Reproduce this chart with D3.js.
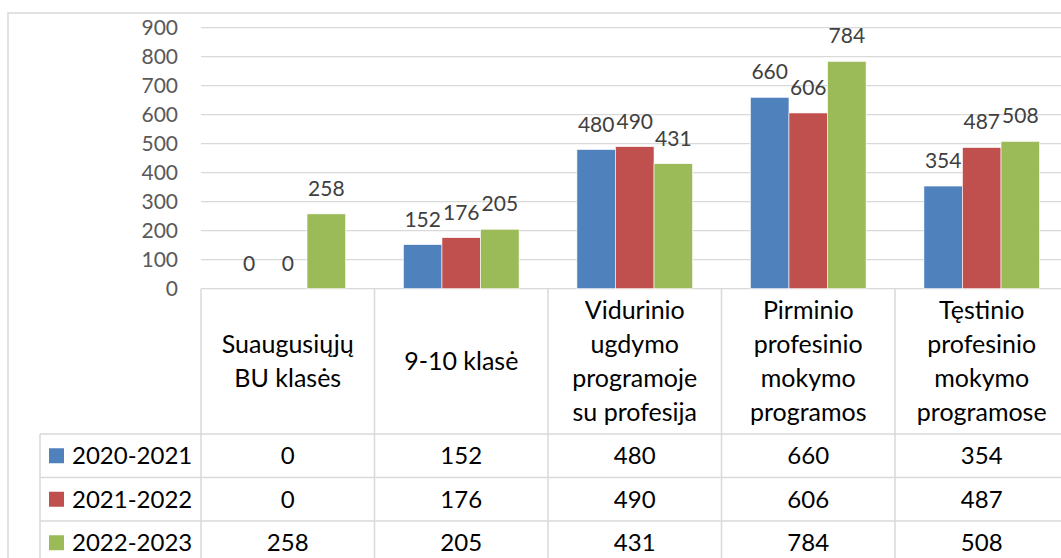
<!DOCTYPE html>
<html>
<head>
<meta charset="utf-8">
<script src="https://cdn.jsdelivr.net/npm/d3@7"></script>
<style>
  body { margin: 0; background: #fff; }
  svg { display: block; font-family: Lato, "Open Sans", sans-serif; }
</style>
</head>
<body>
<svg id="chart" width="1061" height="558"></svg>
<script>
// categories, each split into the lines shown in the table header
const categories = [
  ["Suaugusiųjų", "BU klasės"],
  ["9-10 klasė"],
  ["Vidurinio", "ugdymo", "programoje", "su profesija"],
  ["Pirminio", "profesinio", "mokymo", "programos"],
  ["Tęstinio", "profesinio", "mokymo", "programose"]
];
const series = ["2020-2021", "2021-2022", "2022-2023"];
const colors = ["#4F81BD", "#C0504D", "#9BBB59"];
const values2020 = [0, 152, 480, 660, 354];
const values2021 = [0, 176, 490, 606, 487];
const values2022 = [258, 205, 431, 784, 508];
const yTicks = [0, 100, 200, 300, 400, 500, 600, 700, 800, 900];

const allValues = [values2020, values2021, values2022];
const catKeys = categories.map((c, i) => i);

const svg = d3.select("#chart");
const grid = "#D9D9D9";

// layout
const plotLeft = 201, plotRight = 1068.5;
const plotTop = 27.7, plotBottom = 288.7;
const headerBottom = 434, rowH = 43.5;
const legendLeft = 40;

// outer chart border
svg.append("rect")
  .attr("x", 8).attr("y", 13)
  .attr("width", 1100).attr("height", 600)
  .attr("fill", "none").attr("stroke", grid).attr("stroke-width", 1.5);

const x0 = d3.scaleBand().domain(catKeys).range([plotLeft, plotRight]).paddingInner(0);
const x1 = d3.scaleBand().domain(series).range([0, x0.bandwidth()]).paddingInner(0).paddingOuter(0.75);
const y = d3.scaleLinear().domain([0, 900]).range([plotBottom, plotTop]);

// gridlines
svg.append("g").selectAll("line")
  .data(yTicks)
  .enter().append("line")
  .attr("x1", plotLeft).attr("x2", plotRight)
  .attr("y1", d => y(d)).attr("y2", d => y(d))
  .attr("stroke", grid).attr("stroke-width", 1.3);

// y axis labels
const yAxis = svg.append("g")
  .attr("transform", "translate(" + (plotLeft - 23) + ",0)")
  .call(d3.axisLeft(y).tickValues(yTicks).tickSize(0).tickPadding(0));
yAxis.select(".domain").remove();
yAxis.selectAll("text")
  .attr("fill", "#595959")
  .style("font-size", "21px")
  .style("font-family", "Lato, sans-serif");

// bars
const groups = svg.append("g").selectAll("g")
  .data(catKeys)
  .enter().append("g")
  .attr("transform", d => "translate(" + x0(d) + ",0)");

groups.selectAll("rect")
  .data(c => series.map((s, i) => ({ s: s, i: i, v: allValues[i][c] })))
  .enter().append("rect")
  .attr("x", d => x1(d.s))
  .attr("y", d => y(d.v))
  .attr("width", x1.bandwidth())
  .attr("height", d => y(0) - y(d.v))
  .attr("fill", d => colors[d.i])
  .attr("stroke", "#fff").attr("stroke-width", 0.6);

groups.selectAll("text")
  .data(c => series.map((s, i) => ({ s: s, i: i, v: allValues[i][c] })))
  .enter().append("text")
  .attr("x", d => x1(d.s) + x1.bandwidth() / 2)
  .attr("y", d => y(d.v) - 18)
  .attr("text-anchor", "middle")
  .attr("fill", "#404040")
  .style("font-size", "21px")
  .text(d => d.v);

// data table
const table = svg.append("g");
const tableBottom = headerBottom + rowH * 3;

// vertical lines
table.selectAll("line.v")
  .data(catKeys.concat([categories.length]))
  .enter().append("line")
  .attr("class", "v")
  .attr("x1", d => d < categories.length ? x0(d) : plotRight)
  .attr("x2", d => d < categories.length ? x0(d) : plotRight)
  .attr("y1", plotBottom).attr("y2", tableBottom + 10)
  .attr("stroke", grid).attr("stroke-width", 1.5);

table.append("line")
  .attr("x1", legendLeft).attr("x2", legendLeft)
  .attr("y1", headerBottom).attr("y2", tableBottom + 10)
  .attr("stroke", grid).attr("stroke-width", 1.5);

// horizontal lines
table.selectAll("line.h")
  .data([0, 1, 2, 3])
  .enter().append("line")
  .attr("class", "h")
  .attr("x1", legendLeft).attr("x2", plotRight)
  .attr("y1", d => headerBottom + d * rowH)
  .attr("y2", d => headerBottom + d * rowH)
  .attr("stroke", grid).attr("stroke-width", 1.5);

// header labels
const lineH = 34;
const headerMid = (plotBottom + headerBottom) / 2;
categories.forEach((lines, c) => {
  const t = table.append("text")
    .attr("text-anchor", "middle")
    .attr("fill", "#000")
    .style("font-size", "25px");
  lines.forEach((ln, k) => {
    t.append("tspan")
      .attr("x", x0(c) + x0.bandwidth() / 2)
      .attr("y", headerMid + (k - (lines.length - 1) / 2) * lineH)
      .attr("dy", "0.35em")
      .text(ln);
  });
});

// rows
series.forEach((s, i) => {
  const cy = headerBottom + rowH * i + rowH / 2;
  table.append("rect")
    .attr("x", 49).attr("y", cy - 7.5)
    .attr("width", 15).attr("height", 15)
    .attr("fill", colors[i]);
  table.append("text")
    .attr("x", 72).attr("y", cy).attr("dy", "0.35em")
    .attr("fill", "#000")
    .style("font-size", "24px")
    .text(s);
  table.selectAll(null)
    .data(allValues[i])
    .enter().append("text")
    .attr("x", (d, c) => x0(c) + x0.bandwidth() / 2)
    .attr("y", cy).attr("dy", "0.35em")
    .attr("text-anchor", "middle")
    .attr("fill", "#000")
    .style("font-size", "24px")
    .text(d => d);
});
</script>
</body>
</html>
